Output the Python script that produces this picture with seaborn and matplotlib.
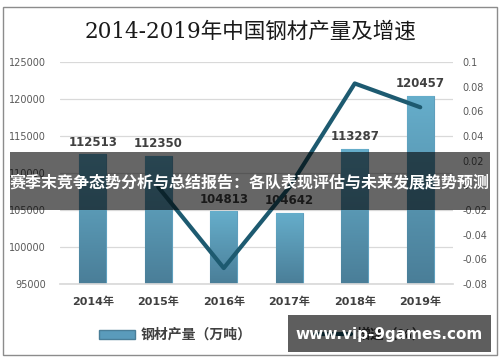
import numpy as np
import pandas as pd
import matplotlib
matplotlib.use("Agg")
import matplotlib.pyplot as plt
import seaborn as sns
from matplotlib.patches import Rectangle
from matplotlib.lines import Line2D
from matplotlib.patches import Patch

years = ["2014年", "2015年", "2016年", "2017年", "2018年", "2019年"]
output = [112513, 112350, 104813, 104642, 113287, 120457]
growth = [np.nan, -0.0014, -0.0671, -0.0016, 0.0826, 0.0633]
left_ticks = [95000, 100000, 105000, 110000, 115000, 120000, 125000]
right_ticks = [-0.08, -0.06, -0.04, -0.02, 0, 0.02, 0.04, 0.06, 0.08, 0.1]
right_labels = ["-0.08", "-0.06", "-0.04", "-0.02", "0", "0.02", "0.04", "0.06", "0.08", "0.1"]
title = "2014-2019年中国钢材产量及增速"
legend_labels = ["钢材产量（万吨）", "增速（%）"]
banner = "赛季末竞争态势分析与总结报告：各队表现评估与未来发展趋势预测"
watermark = "www.vip-9games.com"

sns.set_theme(style="white")
plt.rcParams['font.family'] = ['DejaVu Sans', 'Noto Sans CJK SC']

df = pd.DataFrame({"year": years, "output": output, "growth": growth, "pos": np.arange(len(years))})

fig = plt.figure(figsize=(5, 3.62), dpi=100)
ax = fig.add_axes([0.12, 0.2155, 0.786, 0.6132])

sns.barplot(data=df, x="year", y="output", ax=ax, width=0.41, color="#5a9bbb", saturation=1)
ymin, ymax = 95000, 125000
ax.set_ylim(ymin, ymax)
ax.set_xlim(-0.5, len(years) - 0.5)

# gradient fill for bars (clipped to each bar, limited to the visible range)
grad = np.linspace(0, 1, 100).reshape(-1, 1)
cmap = matplotlib.colors.LinearSegmentedColormap.from_list("g", ["#4a7e98", "#66aecb"])
for p in list(ax.patches):
    x0 = p.get_x()
    w, h = p.get_width(), p.get_height()
    top = p.get_y() + h
    im = ax.imshow(grad, extent=[x0, x0 + w, ymin, top], origin="lower", cmap=cmap,
                   aspect="auto", zorder=2)
    im.set_clip_path(p)
    p.set_edgecolor("#5f9fbd")
    p.set_linewidth(0.8)
ax.set_xlim(-0.5, len(years) - 0.5)
ax.set_ylim(ymin, ymax)

for c in ax.containers:
    ax.bar_label(c, labels=[str(v) for v in output], padding=4, fontsize=8.5,
                 color="#404040", fontweight="bold")

ax.set_yticks(left_ticks)
ax.set_yticklabels([str(t) for t in left_ticks], fontsize=7, color="#595959")
ax.yaxis.grid(True, color="#d9d9d9", linewidth=0.9)
ax.set_axisbelow(True)
ax.set_xlabel("")
ax.set_ylabel("")
ax.tick_params(axis="x", length=0, pad=9, labelsize=8, labelcolor="#404040")
ax.tick_params(axis="y", length=0, pad=10)
for lab in ax.get_xticklabels():
    lab.set_fontweight("bold")
for s in ax.spines.values():
    s.set_visible(False)
ax.spines["bottom"].set_visible(True)
ax.spines["bottom"].set_color("#d9d9d9")

ax2 = ax.twinx()
sns.lineplot(data=df, x="pos", y="growth", ax=ax2, color="#1d5a70", linewidth=3.0)
ax2.set_ylim(-0.08, 0.1)
ax2.set_xlim(-0.5, len(years) - 0.5)
ax2.set_yticks(right_ticks)
ax2.set_yticklabels(right_labels, fontsize=7, color="#595959")
ax2.set_ylabel("")
ax2.tick_params(axis="y", length=0, pad=7)
for s in ax2.spines.values():
    s.set_visible(False)

fig.text(0.5, 1 - 32 / 362, title, ha="center", va="center", fontsize=15.5,
         color="#1a1a1a", family=["DejaVu Serif", "Noto Sans CJK SC"])

handles = [Patch(facecolor="#5a9bbb", edgecolor="#4a7e98"),
           Line2D([0], [0], color="#1d5a70", linewidth=3)]
leg = fig.legend(handles, legend_labels, loc="center", bbox_to_anchor=(0.525, 1 - 335 / 362),
                 ncol=2, frameon=False, fontsize=10, columnspacing=4.5, handlelength=2.6,
                 handleheight=0.6, handletextpad=0.4)
for t in leg.get_texts():
    t.set_color("#404040")
    t.set_fontweight("bold")

fig.patches.append(Rectangle((0.006, 0.019), 0.988, 0.962, transform=fig.transFigure,
                             fill=False, edgecolor="#8c8c8c", linewidth=1.0, zorder=5))

fig.patches.append(Rectangle((0.02, 1 - 210 / 362), 0.96, 58 / 362, transform=fig.transFigure,
                             facecolor="black", alpha=0.6, edgecolor="none", zorder=10))
fig.text(0.5, 1 - 182 / 362, banner, ha="center", va="center", fontsize=11.5,
         color="white", fontweight="bold", family=["Noto Sans CJK SC", "DejaVu Sans"], zorder=11)

fig.patches.append(Rectangle((0.576, 1 - 352 / 362), 0.406, 37 / 362, transform=fig.transFigure,
                             facecolor="black", alpha=0.63, edgecolor="none", zorder=10))
fig.text(389 / 500, 1 - 334 / 362, watermark, ha="center", va="center", fontsize=11,
         color="white", fontweight="bold", family=["DejaVu Sans"], zorder=11)

fig.savefig("out.png", dpi=100)
